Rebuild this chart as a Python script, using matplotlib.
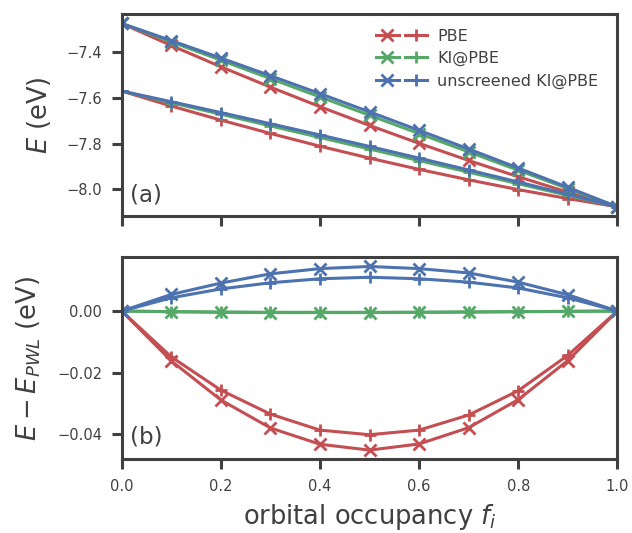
import matplotlib
matplotlib.use("Agg")
import matplotlib.pyplot as plt
from matplotlib.legend_handler import HandlerTuple

# occupancy grid
f = [0.0, 0.1, 0.2, 0.3, 0.4, 0.5, 0.6, 0.7, 0.8, 0.9, 1.0]

# (a) total energies, eV  -- "x" set (upper start) and "+" set (lower start)
pbe_x = [-7.273, -7.3695, -7.4625, -7.5518, -7.6374, -7.7195, -7.7979, -7.8729, -7.9441, -8.0117, -8.076]
ki_x = [-7.273, -7.3535, -7.4340, -7.5144, -7.5947, -7.6750, -7.7552, -7.8354, -7.9156, -7.9958, -8.076]
unscr_x = [-7.273, -7.3479, -7.4245, -7.5018, -7.5804, -7.6600, -7.7410, -7.8227, -7.9060, -7.9904, -8.076]

pbe_p = [-7.569, -7.6346, -7.6961, -7.7546, -7.8105, -7.8626, -7.9119, -7.9577, -8.0005, -8.0397, -8.076]
ki_p = [-7.569, -7.6199, -7.6707, -7.7215, -7.7722, -7.8229, -7.8736, -7.9242, -7.9748, -8.0254, -8.076]
unscr_p = [-7.569, -7.6154, -7.6632, -7.7119, -7.7613, -7.8115, -7.8627, -7.9145, -7.9671, -8.0210, -8.076]

# (b) deviation from piecewise linearity, eV
dpbe_x = [0, -0.0162, -0.0289, -0.0380, -0.0433, -0.0452, -0.0432, -0.0379, -0.0288, -0.0161, 0]
dki_x = [0, -0.0002, -0.0004, -0.0005, -0.0005, -0.0005, -0.0004, -0.0003, -0.0002, -0.0001, 0]
dunscr_x = [0, 0.0054, 0.0091, 0.0121, 0.0138, 0.0145, 0.0138, 0.0124, 0.0094, 0.0053, 0]

dpbe_p = [0, -0.0149, -0.0257, -0.0335, -0.0387, -0.0402, -0.0387, -0.0338, -0.0259, -0.0144, 0]
dki_p = [0, -0.0002, -0.0003, -0.0004, -0.0004, -0.0004, -0.0004, -0.0003, -0.0002, -0.0001, 0]
dunscr_p = [0, 0.0043, 0.0072, 0.0092, 0.0105, 0.0110, 0.0105, 0.0094, 0.0075, 0.0043, 0]

labels = ['PBE', 'KI@PBE', 'unscreened KI@PBE']
colors = ['#C44E52', '#55A868', '#4C72B0']
dark = '#404040'

plt.rcParams['axes.edgecolor'] = dark
plt.rcParams['text.color'] = dark
plt.rcParams['axes.labelcolor'] = dark
plt.rcParams['xtick.color'] = dark
plt.rcParams['ytick.color'] = dark

fig = plt.figure(figsize=(6.32, 5.33), dpi=100)
ax1 = fig.add_axes([0.1926, 0.5947, 0.7842, 0.3785])
ax2 = fig.add_axes([0.1926, 0.1383, 0.7842, 0.3790])

style = dict(lw=2.2, ms=9, mew=2.0)
handles = []
for c, lab, yx, yp in zip(colors, labels, [pbe_x, ki_x, unscr_x], [pbe_p, ki_p, unscr_p]):
    hx, = ax1.plot(f, yx, marker='x', color=c, **style)
    hp, = ax1.plot(f, yp, marker='+', color=c, **style)
    handles.append((hx, hp))

for c, yx, yp in zip(colors, [dpbe_x, dki_x, dunscr_x], [dpbe_p, dki_p, dunscr_p]):
    ax2.plot(f, yx, marker='x', color=c, **style)
    ax2.plot(f, yp, marker='+', color=c, **style)

for ax in (ax1, ax2):
    ax.set_xlim(0, 1)
    ax.set_xticks([0, 0.2, 0.4, 0.6, 0.8, 1.0])
    for s in ax.spines.values():
        s.set_linewidth(2.2)
    ax.tick_params(direction='out', length=7, width=2.2, labelsize=10.5, pad=7)

ax1.set_yticks([-7.4, -7.6, -7.8, -8.0])
ax1.tick_params(labelbottom=False)
ax2.set_yticks([0.0, -0.02, -0.04])
ax2.set_yticklabels(['0.00', '\u22120.02', '\u22120.04'])

ax1.set_ylabel('$E$ (eV)', fontsize=18.5, labelpad=10)
ax2.set_ylabel('$E - E_{PWL}$ (eV)', fontsize=18.5, labelpad=10)
ax2.set_xlabel('orbital occupancy $f_i$', fontsize=18.5, labelpad=6)

ax1.text(0.017, 0.046, '(a)', transform=ax1.transAxes, fontsize=16.5, va='bottom', ha='left')
ax2.text(0.017, 0.054, '(b)', transform=ax2.transAxes, fontsize=16.5, va='bottom', ha='left')

ax1.legend(handles, labels, handler_map={tuple: HandlerTuple(ndivide=None, pad=0.4)},
           frameon=False, fontsize=11.5, handlelength=3.2, handletextpad=0.6,
           loc='upper right', bbox_to_anchor=(0.99, 1.0), labelspacing=0.46)

fig.savefig('out.png', dpi=100)
